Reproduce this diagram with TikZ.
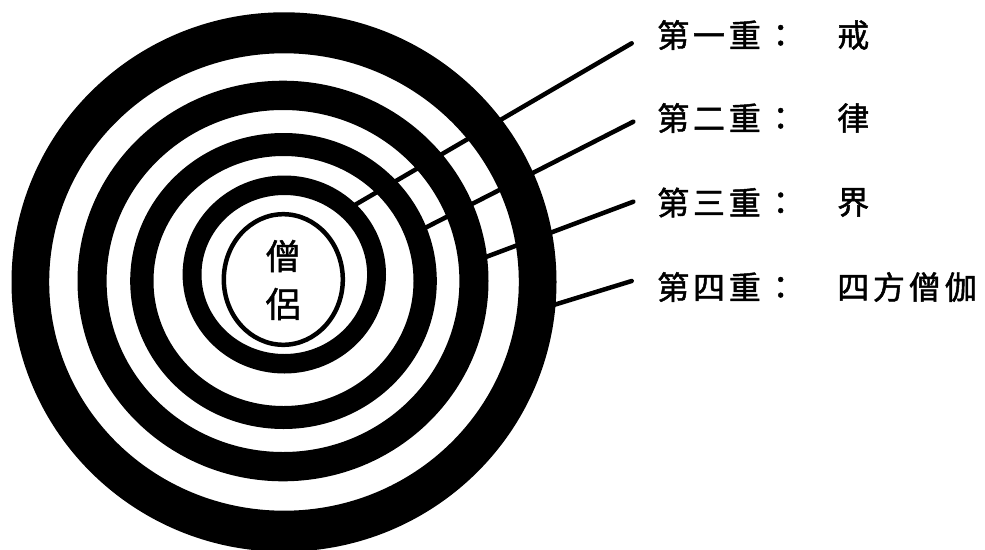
\documentclass[tikz,border=0pt]{standalone}
\usepackage{fontspec}
\newfontfamily\cjk{Noto Sans CJK TC}[LetterSpace=12,FakeBold=1.5]
\newfontfamily\cjkc{Noto Sans CJK TC}[FakeBold=1.3]
\begin{document}
\begin{tikzpicture}[x=1pt,y=-1pt,
  ring/.style={fill=black,even odd rule},
  leader/.style={draw=black,line width=4.5pt,line cap=round},
  label/.style={anchor=west,inner sep=0pt,font=\cjk\fontsize{32}{32}\selectfont},
  centre/.style={inner sep=0pt,font=\cjkc\fontsize{35}{35}\selectfont}]
\useasboundingbox (0,0) rectangle (985,549);
\fill[white] (0,0) rectangle (985,549);
% rings
\coordinate (c1) at (284,282);
\coordinate (c2) at (283,281);
\coordinate (c3) at (283.5,281);
\coordinate (c4) at (284.3,274.5);
\fill[ring] (c1) ellipse [x radius=272.5pt, y radius=269.7pt]
            (c1) ellipse [x radius=234.8pt, y radius=228.7pt];
\fill[ring] (c2) ellipse [x radius=205.5pt, y radius=200.3pt]
            (c2) ellipse [x radius=176.4pt, y radius=171pt];
\fill[ring] (c3) ellipse [x radius=153.3pt, y radius=148pt]
            (c3) ellipse [x radius=130pt, y radius=125pt];
\fill[ring] (c4) ellipse [x radius=101.7pt, y radius=99pt]
            (c4) ellipse [x radius=82.8pt, y radius=79.5pt];
% core
\coordinate (c0) at (283.3,279.5);
\draw[line width=4.5pt] (c0) ellipse [x radius=59.5pt, y radius=65.3pt];
\node[centre] (seng) at (283,256) {僧};
\node[centre] (lv) at (283,304) {侶};
% leader ends
\coordinate (a1) at (631.7,43.3);  \coordinate (b1) at (350,207.8);
\coordinate (a2) at (633.3,121.7); \coordinate (b2) at (420,230.5);
\coordinate (a3) at (633.3,201.7); \coordinate (b3) at (480,259.2);
\coordinate (a4) at (631.7,281);   \coordinate (b4) at (540,309.2);
\draw[leader] (a1) -- (b1);
\draw[leader] (a2) -- (b2);
\draw[leader] (a3) -- (b3);
\draw[leader] (a4) -- (b4);
% labels
\node[label] (k1) at (657,35) {第一重：};
\node[label] (k2) at (657,118) {第二重：};
\node[label] (k3) at (657,202.5) {第三重：};
\node[label] (k4) at (657,287) {第四重：};
\node[label] (v1) at (837,35) {戒};
\node[label] (v2) at (837,118) {律};
\node[label] (v3) at (837,202.5) {界};
\node[label] (v4) at (837,287) {四方僧伽};
\end{tikzpicture}
\end{document}
